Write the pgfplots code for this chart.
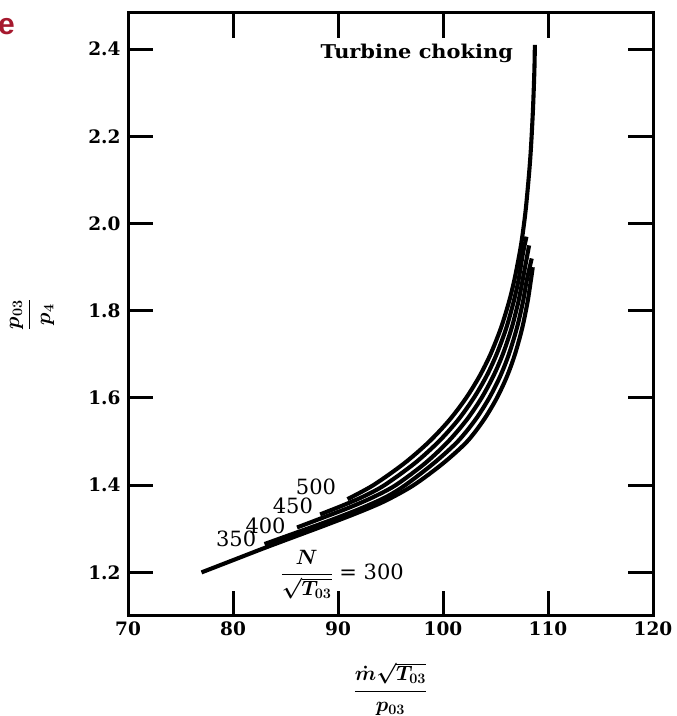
\documentclass[border=0pt]{standalone}
\usepackage{fontspec}
\setmainfont{DejaVu Serif}
\setsansfont{Liberation Sans}
\usepackage{pgfplots}
\pgfplotsset{compat=1.18}
\definecolor{titlered}{RGB}{166,25,46}
\newcommand{\numfont}{\fontsize{21}{21}\selectfont}
\newcommand{\tickfont}{\fontsize{18.5}{18.5}\selectfont\bfseries}
\newcommand{\labfont}{\fontsize{22}{24}\selectfont\boldmath}
\pgfplotsset{speedline/.style={line width=4.1pt, black, smooth}}

\begin{document}
\begin{tikzpicture}
\begin{axis}[
  name=ax,
  scale only axis,
  width=525pt, height=603pt,
  xmin=70, xmax=120, ymin=1.1, ymax=2.483,
  xtick={70,80,90,100,110,120},
  ytick={1.2,1.4,1.6,1.8,2.0,2.2,2.4},
  yticklabels={1.2,1.4,1.6,1.8,2.0,2.2,2.4},
  xticklabels={70,80,90,100,110,120},
  tick align=inside, major tick length=25pt,
  axis line style={line width=3pt},
  tick style={line width=3pt, black},
  tick label style={font=\tickfont},
  yticklabel style={xshift=-4pt},
  xticklabel style={yshift=-2pt},
]
% N/sqrt(T03) = 300
\addplot[speedline] coordinates {(77,1.200) (80,1.228) (83,1.256) (86,1.283) (89,1.310) (92,1.338) (94.5,1.364) (97.2,1.40) (100,1.45) (102.29,1.50) (103.89,1.55) (105.13,1.60) (106.1,1.65) (106.85,1.70) (107.54,1.76) (108.05,1.82) (108.37,1.87) (108.55,1.90)};
% 350
\addplot[speedline] coordinates {(83,1.265) (86,1.291) (89,1.317) (92,1.345) (94.5,1.372) (96.4,1.40) (99.1,1.45) (101.39,1.50) (103.08,1.55) (104.40,1.60) (105.45,1.65) (106.27,1.70) (107.03,1.76) (107.61,1.82) (107.98,1.87) (108.45,1.92)};
% 400
\addplot[speedline] coordinates {(86.1,1.303) (88.5,1.325) (91,1.348) (93.3,1.372) (95.49,1.40) (98.28,1.45) (100.49,1.50) (102.26,1.55) (103.67,1.60) (104.79,1.65) (105.69,1.70) (106.53,1.76) (107.17,1.82) (107.58,1.87) (108.2,1.95)};
% 450
\addplot[speedline] coordinates {(88.3,1.333) (90.5,1.354) (92.5,1.375) (94.42,1.40) (97.29,1.45) (99.59,1.50) (101.45,1.55) (102.93,1.60) (104.14,1.65) (105.10,1.70) (106.02,1.76) (106.72,1.82) (107.19,1.87) (107.6,1.93) (107.95,1.97)};
% 500, up to turbine choking
\addplot[speedline] coordinates {(90.9,1.368) (93.36,1.40) (96.30,1.45) (98.69,1.50) (100.63,1.55) (102.20,1.60) (103.48,1.65) (104.52,1.70) (105.51,1.76) (106.28,1.82) (106.79,1.87) (107.28,1.93) (107.55,1.97) (107.9,2.037) (108.3,2.146) (108.55,2.252) (108.7,2.349) (108.75,2.41)};

\coordinate (tc) at (axis cs:97.5,2.39);
\coordinate (n350) at (axis cs:80.3,1.276);
\coordinate (n400) at (axis cs:83.1,1.306);
\coordinate (n450) at (axis cs:85.7,1.352);
\coordinate (n500) at (axis cs:87.9,1.397);
\coordinate (n300) at (axis cs:90.4,1.195);
\end{axis}
\node[font=\fontsize{19}{19}\selectfont\bfseries, xscale=1.1] at (tc) {Turbine choking};
\node[font=\numfont] at (n350) {350};
\node[font=\numfont] at (n400) {400};
\node[font=\numfont] at (n450) {450};
\node[font=\numfont] at (n500) {500};
\node[font=\numfont\boldmath] at (n300) {$\displaystyle\frac{N}{\sqrt{T_{03}}}$ = 300};
\node[font=\labfont] at ([yshift=-73pt]ax.south) {$\displaystyle\frac{\dot{m}\sqrt{T_{03}}}{p_{03}}$};
\node[font=\labfont, rotate=90] at ([xshift=-96pt]ax.west) {$\displaystyle\frac{p_{03}}{p_4}$};
\node[anchor=north west, inner sep=0pt, text=titlered, font=\sffamily\bfseries\fontsize{30}{30}\selectfont]
  at ([xshift=-130pt,yshift=-5pt]ax.north west) {e};
\pgfresetboundingbox
\path[use as bounding box] ([xshift=-128pt,yshift=-100pt]ax.south west) rectangle ([xshift=24pt,yshift=13pt]ax.north east);
\end{tikzpicture}
\end{document}
